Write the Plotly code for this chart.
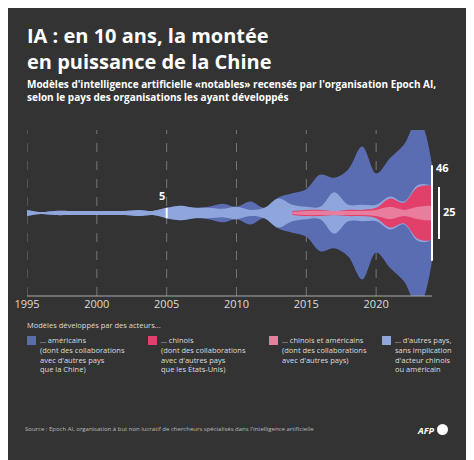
import plotly.graph_objects as go
import numpy as np

years = list(range(1995, 2025))
cn_us = [0]*19 + [1, 2, 2, 2, 2, 2, 3, 6, 3, 6, 6]
cn    = [0]*19 + [1, 1, 1, 0, 1, 1, 2, 8, 7, 19, 19]
other = [3, 1, 2, 2, 2, 2, 2, 2, 3, 2, 5, 7, 5, 5, 4, 6, 3, 5, 14, 6, 3, 3, 18, 5, 5, 3, 2, 1, 2, 0]
us    = [0]*13 + [1, 5, 0, 8, 0, 1, 11, 17, 31, 14, 34, 56, 30, 37, 55, 64, 21]

BG = "#333333"
cols = {"us": "#5a6db3", "other": "#8ea6dc", "cn": "#e2406a", "cnus": "#e87d9e"}

c1 = np.array(cn_us, float)
c2 = c1 + np.array(cn)
c3 = c2 + np.array(other)
c4 = c3 + np.array(us)

fig = go.Figure()
def layer(total, color, start=None):
    xs = years; t = total
    if start is not None:
        i = years.index(start); xs = years[i:]; t = total[i:]
    x = list(xs) + list(xs[::-1])
    y = list(t/2) + list(-t[::-1]/2)
    fig.add_trace(go.Scatter(x=x, y=y, fill="toself", fillcolor=color, mode="lines",
                             line=dict(color=color, width=0, shape="spline", smoothing=1),
                             hoverinfo="skip", showlegend=False))
layer(c4, cols["us"])
layer(c3, cols["other"])
layer(c2, cols["cn"], 2014)
layer(c1, cols["cnus"], 2014)

OFF = 8
W, H = 474-OFF, 460-OFF
L, R, T, B = 27-OFF, 474-432, 130-OFF, 460-296
pw, ph = W-L-R, H-T-B
def tp(xp, yp):
    return (xp-OFF-L)/pw, (H-B-(yp-OFF))/ph

shapes = []
for yr in range(1995, 2025, 5):
    shapes.append(dict(type="line", xref="x", yref="y", x0=yr, x1=yr, y0=-40, y1=40,
                       line=dict(color="#777", width=1, dash="dash"), layer="below"))
shapes.append(dict(type="line", xref="x", yref="y", x0=2005, x1=2005, y0=-2.5, y1=2.5, line=dict(color="white", width=2)))
px46 = tp(432, 0)[0]; px25 = tp(439, 0)[0]
shapes.append(dict(type="line", xref="paper", yref="y", x0=px46, x1=px46, y0=-23, y1=23, line=dict(color="white", width=2)))
shapes.append(dict(type="line", xref="paper", yref="y", x0=px25, x1=px25, y0=-12.5, y1=12.5, line=dict(color="white", width=2)))
shapes.append(dict(type="line", xref="paper", yref="paper", x0=0, x1=1, y0=0, y1=0, line=dict(color="#aaa", width=1)))

F = "Open Sans"
ann = [
    dict(x=2005, y=4, text="<b>5</b>", showarrow=False, xref="x", yref="y", font=dict(color="white", size=11), xanchor="right", yanchor="bottom"),
    dict(x=tp(434, 0)[0], y=22, text="<b>46</b>", showarrow=False, xref="paper", yref="y", font=dict(color="white", size=11), xanchor="left"),
    dict(x=tp(441, 0)[0], y=0.5, text="<b>25</b>", showarrow=False, xref="paper", yref="y", font=dict(color="white", size=11), xanchor="left"),
]
def pix(xp, yp, text, size, color="white", bold=False, anchor="left"):
    x, y = tp(xp, yp)
    return dict(x=x, y=y, xref="paper", yref="paper", text=("<b>%s</b>" % text if bold else text),
                showarrow=False, xanchor=anchor, yanchor="top", align="left",
                font=dict(family=F, size=size, color=color))
texts = [
    pix(25, 20, "IA : en 10 ans, la montée<br>en puissance de la Chine", 20, bold=True),
    pix(25, 75, "Modèles d'intelligence artificielle «notables» recensés par l'organisation Epoch AI,<br>selon le pays des organisations les ayant développés", 10, bold=True),
    pix(25, 318, "Modèles développés par des acteurs...", 7.5, color="#ddd"),
    pix(38, 333, "... américains<br>(dont des collaborations<br>avec d'autres pays<br>que la Chine)", 7.5, color="#ddd"),
    pix(159, 333, "... chinois<br>(dont des collaborations<br>avec d'autres pays<br>que les États-Unis)", 7.5, color="#ddd"),
    pix(280, 333, "... chinois et américains<br>(dont des collaborations<br>avec d'autres pays)", 7.5, color="#ddd"),
    pix(393, 333, "... d'autres pays,<br>sans implication<br>d'acteur chinois<br>ou américain", 7.5, color="#ddd"),
    pix(23, 423, "Source : Epoch AI, organisation à but non lucratif de chercheurs spécialisés dans l'intelligence artificielle", 6, color="#bbb"),
    pix(415, 422, "<i>AFP</i>", 9, bold=True),
]
for xp, c, circ in [(27, cols["us"], False), (148, cols["cn"], False), (269, cols["cnus"], False), (382, cols["other"], False), (437, "white", True)]:
    yp = 336 if not circ else 424
    sz = 9 if not circ else 11
    x0, y1 = tp(xp, yp); x1, y0 = tp(xp+sz, yp+sz)
    shapes.append(dict(type="circle" if circ else "rect", xref="paper", yref="paper",
                       x0=x0, x1=x1, y0=y0, y1=y1, line=dict(width=0), fillcolor=c))

fig.update_layout(
    width=W, height=H, margin=dict(l=L, r=R, t=T, b=B, autoexpand=False),
    paper_bgcolor=BG, plot_bgcolor=BG,
    xaxis=dict(range=[1995, 2024], tickvals=list(range(1995, 2025, 5)), showgrid=False, zeroline=False,
               tickfont=dict(family=F, size=11, color="#ddd"), ticks="", fixedrange=True, automargin=False),
    yaxis=dict(range=[-40, 40], visible=False, fixedrange=True, automargin=False),
    shapes=shapes, annotations=ann + texts, showlegend=False,
    font=dict(family=F),
)
fig.write_html("out.html")
